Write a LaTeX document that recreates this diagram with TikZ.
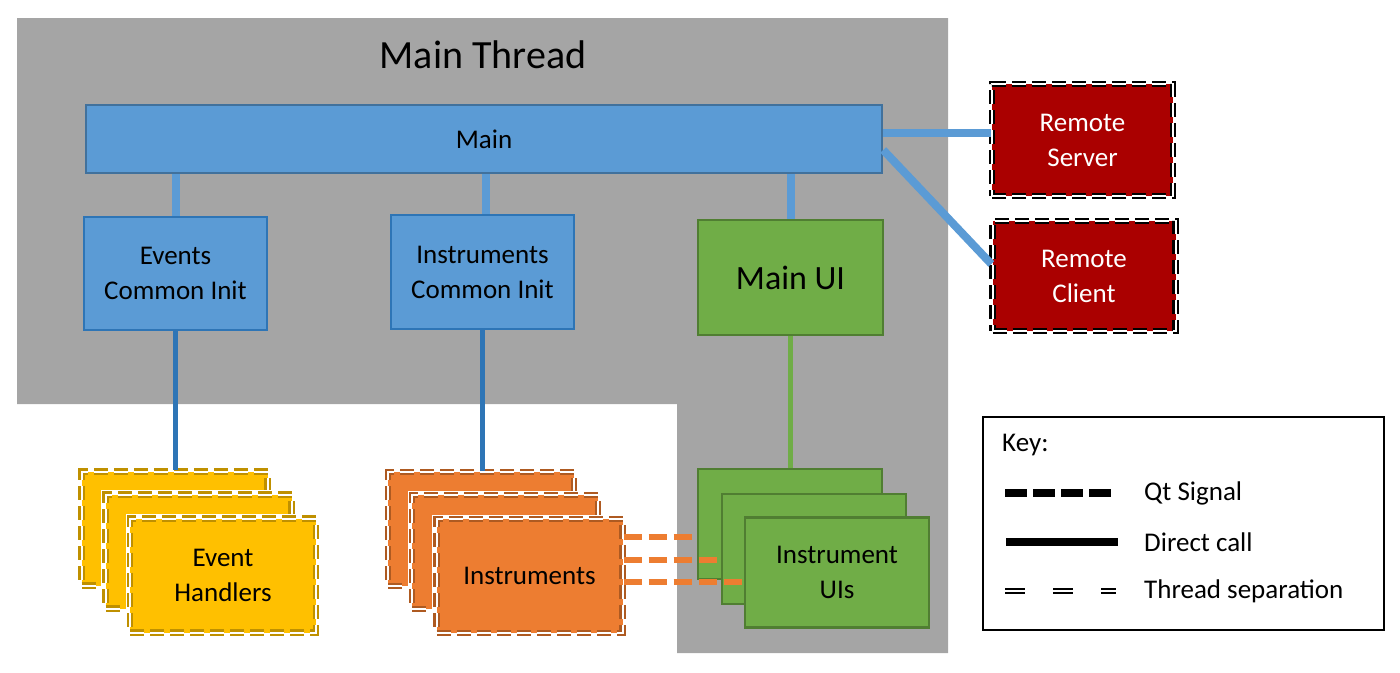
\documentclass[tikz,border=0pt]{standalone}
\usepackage{fontspec}
\setmainfont{Carlito}
\definecolor{cgray}{HTML}{A5A5A5}
\definecolor{cblue}{HTML}{5B9BD5}
\definecolor{cbluemain}{HTML}{41719C}
\definecolor{cblueb}{HTML}{2E75B6}
\definecolor{cgreen}{HTML}{70AD47}
\definecolor{cgreenb}{HTML}{507E32}
\definecolor{cyellow}{HTML}{FFC000}
\definecolor{cyellowb}{HTML}{BF9000}
\definecolor{corange}{HTML}{ED7D31}
\definecolor{corangeb}{HTML}{AE5A21}
\definecolor{cred}{HTML}{AA0000}
\begin{document}
\begin{tikzpicture}[x=1pt,y=-1pt,
  box/.style={rectangle, inner sep=0pt, line width=2.5pt, align=center,
    font=\fontsize{27}{35}\selectfont},
  bluebox/.style={box, fill=cblue, draw=cblueb},
  greenbox/.style={box, fill=cgreen, draw=cgreenb},
  stackbox/.style={box, minimum width=186pt, minimum height=114pt,
    preaction={draw=white, line width=9pt, solid},
    double=white, double distance=2pt, line width=2.4pt,
    dash pattern=on 14pt off 6pt},
  yellowbox/.style={stackbox, fill=cyellow, draw=cyellowb},
  orangebox/.style={stackbox, fill=corange, draw=corangeb},
  remotebox/.style={stackbox, fill=cred, draw=black, text=white},
  iuibox/.style={greenbox, minimum width=184pt, minimum height=110pt},
  maincall/.style={draw=cblue, line width=8pt},
  subcall/.style={draw=cblueb, line width=5pt},
  uicall/.style={draw=cgreen, line width=5pt},
  sigline/.style={draw=corange, line width=6pt, dash pattern=on 18pt off 7pt},
  keytext/.style={anchor=west, inner sep=0pt, font=\fontsize{27}{35}\selectfont},
  qtsig/.style={line width=8pt, dash pattern=on 22pt off 6pt},
  direct/.style={line width=8pt},
  thread/.style={double=white, line width=2.3pt, double distance=2pt,
    dash pattern=on 20pt off 28pt}
]
\useasboundingbox (0,0) rectangle (1400,672);
% main thread region
\fill[cgray] (17,18) -- (948,18) -- (948,653) -- (677,653) -- (677,404) -- (17,404) -- cycle;
\node[inner sep=0pt, font=\fontsize{40}{48}\selectfont] (title) at (483,55) {Main Thread};

% top-level nodes
\node[bluebox, draw=cbluemain, minimum width=796pt, minimum height=68pt] (main) at (484,139) {Main};
\node[bluebox, minimum width=183pt, minimum height=113pt] (evinit) at (175.5,273.5) {Events\\Common Init};
\node[bluebox, minimum width=183pt, minimum height=114pt] (insinit) at (482.5,272) {Instruments\\Common Init};
\node[greenbox, minimum width=185pt, minimum height=115pt, font=\fontsize{34}{40}\selectfont] (mainui) at (790.5,277.5) {Main UI};

% remote nodes
\node[remotebox, minimum width=181pt, minimum height=112pt] (rserver) at (1082.5,140) {Remote\\Server};
\node[remotebox, minimum width=183pt, minimum height=110pt] (rclient) at (1084,276) {Remote\\Client};

% event handlers stack
\node[yellowbox] (eh1) at (174.5,528.5) {};
\node[yellowbox] (eh2) at (198.5,551.5) {};
\node[yellowbox] (eh3) at (223,575.5) {Event\\Handlers};

% instruments stack
\node[orangebox] (ins1) at (481,529) {};
\node[orangebox] (ins2) at (505,552) {};
\node[orangebox] (ins3) at (529.5,576) {Instruments};

% instrument UIs stack
\node[iuibox] (iui1) at (790,524) {};
\node[iuibox] (iui2) at (814,549) {};
\node[iuibox] (iui3) at (837,572.5) {Instrument\\UIs};

% connectors
\coordinate (ms) at ([yshift=6pt]main.east);
\coordinate (mc) at ([yshift=-11pt]main.east);
\draw[maincall] (main.south -| evinit.north) -- (evinit.north);
\draw[maincall] (main.south -| 486,0) -- (insinit.north -| 486,0);
\draw[maincall] (main.south -| mainui.north) -- (mainui.north);
\draw[maincall] (ms) -- (ms -| rserver.west);
\draw[maincall] (mc) -- ([yshift=12pt]rclient.west);
\draw[subcall] (evinit.south) -- (evinit.south |- eh1.north);
\draw[subcall] (insinit.south) -- (insinit.south |- ins1.north);
\draw[uicall] (mainui.south) -- (mainui.south |- iui1.north);
\draw[sigline] (ins3.east |- 0,537) -- (iui1.west |- 0,537);
\draw[sigline] (ins3.east |- 0,560) -- (iui2.west |- 0,560);
\draw[sigline] (ins3.east |- 0,582) -- (iui3.west |- 0,582);

% key
\node[draw=black, line width=1.5pt, fill=white, minimum width=401pt, minimum height=213pt, inner sep=0pt] (key) at (1183.5,523.5) {};
\node[keytext] (keytitle) at (1002,445) {Key:};
\coordinate (k1a) at (1005,493); \coordinate (k1b) at (1116,493);
\coordinate (k2a) at (1006,542); \coordinate (k2b) at (1118,542);
\coordinate (k3a) at (1005,591); \coordinate (k3b) at (1116,591);
\draw[qtsig] (k1a) -- (k1b);
\draw[direct] (k2a) -- (k2b);
\draw[thread] (k3a) -- (k3b);
\node[keytext] (kt1) at (1144,493) {Qt Signal};
\node[keytext] (kt2) at (1144,542) {Direct call};
\node[keytext] (kt3) at (1144,591) {Thread separation};
\end{tikzpicture}
\end{document}
